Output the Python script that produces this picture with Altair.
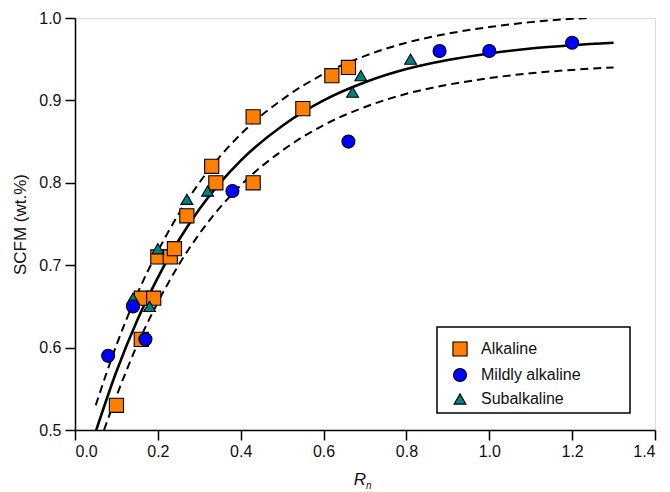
import altair as alt
import pandas as pd

# ---- data ----
alk_x = [0.10, 0.16, 0.16, 0.19, 0.20, 0.23, 0.24, 0.27, 0.34, 0.33, 0.43, 0.43, 0.55, 0.62, 0.66]
alk_y = [0.53, 0.61, 0.66, 0.66, 0.71, 0.71, 0.72, 0.76, 0.80, 0.82, 0.88, 0.80, 0.89, 0.93, 0.94]

mild_x = [0.08, 0.14, 0.17, 0.38, 0.66, 0.88, 1.00, 1.20]
mild_y = [0.59, 0.65, 0.61, 0.79, 0.85, 0.96, 0.96, 0.97]

sub_x = [0.14, 0.18, 0.20, 0.27, 0.32, 0.67, 0.69, 0.81]
sub_y = [0.66, 0.65, 0.72, 0.78, 0.79, 0.91, 0.93, 0.95]

fit_x = [0.05, 0.10, 0.15, 0.20, 0.25, 0.30, 0.40, 0.50, 0.60, 0.70, 0.80, 0.90, 1.00, 1.10, 1.20, 1.30]
fit_y = [0.498, 0.571, 0.633, 0.685, 0.730, 0.768, 0.827, 0.869, 0.900, 0.922, 0.938, 0.949, 0.957, 0.963, 0.967, 0.970]

up_x = [0.05, 0.10, 0.15, 0.20, 0.25, 0.30, 0.40, 0.50, 0.60, 0.70, 0.80, 0.90, 1.00, 1.10, 1.20, 1.24]
up_y = [0.530, 0.603, 0.665, 0.717, 0.762, 0.800, 0.859, 0.901, 0.932, 0.954, 0.970, 0.981, 0.989, 0.995, 0.999, 1.000]

lo_x = [0.07, 0.10, 0.15, 0.20, 0.25, 0.30, 0.40, 0.50, 0.60, 0.70, 0.80, 0.90, 1.00, 1.10, 1.20, 1.30]
lo_y = [0.500, 0.541, 0.603, 0.655, 0.700, 0.738, 0.797, 0.839, 0.870, 0.892, 0.908, 0.919, 0.927, 0.933, 0.937, 0.940]

groups = ["Alkaline", "Mildly alkaline", "Subalkaline"]
colors = ["#FF7F00", "#0000FF", "#008080"]
shapes = ["square", "circle", "triangle-up"]
sizes = [200, 140, 230]

# draw order: squares, triangles, circles
pts = pd.concat([
    pd.DataFrame({"x": alk_x, "y": alk_y, "g": "Alkaline"}),
    pd.DataFrame({"x": sub_x, "y": sub_y, "g": "Subalkaline"}),
    pd.DataFrame({"x": mild_x, "y": mild_y, "g": "Mildly alkaline"}),
], ignore_index=True)

fit = pd.DataFrame({"x": fit_x, "y": fit_y})
up = pd.DataFrame({"x": up_x, "y": up_y})
lo = pd.DataFrame({"x": lo_x, "y": lo_y})

FONT = "Liberation Sans"
TXT = "#111111"

xs = alt.Scale(domain=[0, 1.4], nice=False, zero=False)
ys = alt.Scale(domain=[0.5, 1.0], nice=False, zero=False)

xax = alt.Axis(values=[0, 0.2, 0.4, 0.6, 0.8, 1.0, 1.2, 1.4], format=".1f", title=None,
               grid=False, tickSize=10, labelPadding=3, domainColor="black", tickColor="black",
               domainWidth=1.5, tickWidth=1.5,
               labelFont=FONT, labelFontSize=16, labelColor=TXT)
yax = alt.Axis(values=[0.5, 0.6, 0.7, 0.8, 0.9, 1.0], format=".1f", title="SCFM (wt.%)",
               grid=False, tickSize=10, labelPadding=4, domainColor="black", tickColor="black",
               domainWidth=1.5, tickWidth=1.5,
               labelFont=FONT, labelFontSize=16, labelColor=TXT,
               titleFont=FONT, titleFontSize=17, titleFontWeight="normal", titleColor=TXT,
               titlePadding=9)

frame = alt.Chart(pd.DataFrame({"a": [0]})).mark_rect(
    fill="white", stroke="black", strokeWidth=1.5
).encode(x=alt.value(362), x2=alt.value(555), y=alt.value(309), y2=alt.value(395))

def line(df, dash=None, width=2.2):
    kw = dict(color="black", strokeWidth=width, interpolate="monotone", clip=True)
    if dash:
        kw["strokeDash"] = dash
    return alt.Chart(df).mark_line(**kw).encode(
        x=alt.X("x:Q", scale=xs, axis=xax), y=alt.Y("y:Q", scale=ys, axis=yax)
    )

l_fit = line(fit, width=2.6)
l_up = line(up, dash=[8, 5], width=2.0)
l_lo = line(lo, dash=[8, 5], width=2.0)

leg = alt.Legend(title=None, orient="none", legendX=377, legendY=323, padding=0,
                 labelFont=FONT, labelFontSize=16, labelColor=TXT,
                 symbolSize=160, symbolStrokeColor="black", symbolStrokeWidth=1.1,
                 rowPadding=7, labelOffset=13)

points = alt.Chart(pts).mark_point(filled=True, stroke="black", strokeWidth=1.1, opacity=1).encode(
    x=alt.X("x:Q", scale=xs, axis=xax),
    y=alt.Y("y:Q", scale=ys, axis=yax),
    color=alt.Color("g:N", scale=alt.Scale(domain=groups, range=colors), legend=leg),
    shape=alt.Shape("g:N", scale=alt.Scale(domain=groups, range=shapes), legend=leg),
    size=alt.Size("g:N", scale=alt.Scale(domain=groups, range=sizes), legend=None),
)

r_txt = alt.Chart(pd.DataFrame({"a": [0]})).mark_text(
    text="R", font=FONT, fontSize=17, fontStyle="italic", align="center", baseline="alphabetic", color=TXT
).encode(x=alt.value(285), y=alt.value(467))
n_txt = alt.Chart(pd.DataFrame({"a": [0]})).mark_text(
    text="n", font=FONT, fontSize=10, fontStyle="italic", align="left", baseline="alphabetic", color=TXT
).encode(x=alt.value(291), y=alt.value(471))

chart = alt.layer(frame, l_fit, l_up, l_lo, points, r_txt, n_txt).properties(
    width=580, height=412,
    autosize=alt.AutoSizeParams(type="none"),
    padding={"left": 75, "top": 18, "right": 15, "bottom": 62},
).configure_view(stroke="black", strokeWidth=1.5).configure(background="white")

chart.save("out.html", embed_options={"renderer": "svg", "actions": False})
